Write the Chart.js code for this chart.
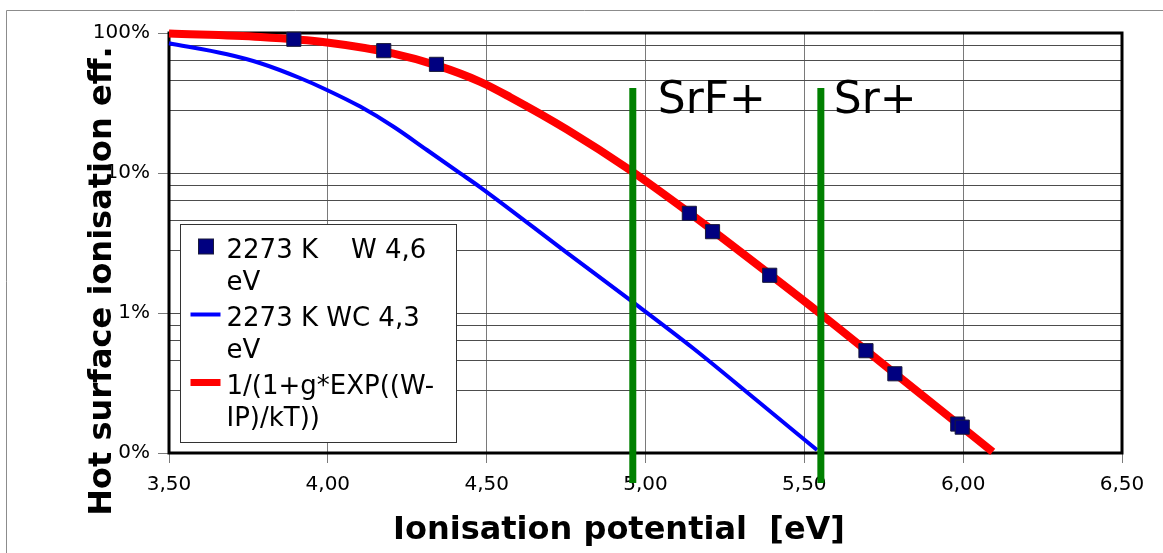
<!DOCTYPE html>
<html>
<head>
<meta charset="utf-8">
<script src="https://cdn.jsdelivr.net/npm/chart.js@4.4.1/dist/chart.umd.min.js"></script>
<style>
  body { margin: 0; background: #fff; }
  #wrap { width: 1163px; height: 553px; position: relative; }
</style>
</head>
<body>
<div id="wrap"><canvas id="chart"></canvas></div>
<script>
// measured points, 2273 K, W 4,6 eV
const wX = [3.893, 4.176, 4.342, 5.138, 5.211, 5.391, 5.694, 5.785, 5.983, 5.997];
const wY = [0.902, 0.748, 0.597, 0.0515, 0.0381, 0.0186, 0.00538, 0.00368, 0.00161, 0.00153];

// 2273 K, WC 4,3 eV curve
const wcX = [3.5, 3.683, 3.788, 3.914, 3.997, 4.102, 4.207, 4.312, 4.417, 4.48, 4.75, 4.951, 5.15, 5.35, 5.54];
const wcY = [0.844, 0.705, 0.608, 0.475, 0.392, 0.298, 0.214, 0.146, 0.0995, 0.079, 0.0272, 0.0124, 0.0056, 0.00238, 0.00105];

// fit 1/(1+g*EXP((W-IP)/kT))
const fitX = [3.5, 3.788, 3.997, 4.207, 4.343, 4.48, 4.574, 4.752, 4.951, 5.14, 5.234, 5.549, 5.785, 6.093];
const fitY = [0.99, 0.935, 0.855, 0.712, 0.587, 0.448, 0.348, 0.205, 0.105, 0.0515, 0.0355, 0.00995, 0.0037, 0.00102];

// ionisation potentials marked with vertical lines
const ionNames = ["SrF+", "Sr+"];
const ionX = [4.96, 5.552];
const ionTop = 0.405;
const ionBottom = 0.00061;

// axis ticks
const xTicks = [3.5, 4.0, 4.5, 5.0, 5.5, 6.0, 6.5];
const yDecades = [0.001, 0.01, 0.1, 1];
const yMinorFractions = [0.28, 0.46, 0.64, 0.82];

const seriesNames = ["2273 K    W 4,6 eV", "2273 K WC 4,3 eV", "1/(1+g*EXP((W-IP)/kT))"];
const legendLines = [["2273 K    W 4,6", "eV"], ["2273 K WC 4,3", "eV"], ["1/(1+g*EXP((W-", "IP)/kT))"]];

const toPoints = (xs, ys) => xs.map((x, i) => ({ x: x, y: ys[i] }));

function yTickValues() {
  const vals = [];
  yDecades.forEach((d, i) => {
    if (i > 0) yMinorFractions.forEach(f => vals.push(d * f));
    vals.push(d);
  });
  return vals.sort((a, b) => a - b);
}

function isDecade(v) {
  const l = Math.log10(v);
  return Math.abs(l - Math.round(l)) < 1e-6;
}

Chart.defaults.font.family = "'DejaVu Sans', sans-serif";
Chart.defaults.color = "#000";

const extras = {
  id: "extras",
  beforeDraw(chart) {
    const ctx = chart.ctx;
    ctx.save();
    ctx.fillStyle = "#fff";
    ctx.fillRect(0, 0, chart.width, chart.height);
    // page frame
    ctx.strokeStyle = "#8c8c8c";
    ctx.lineWidth = 1;
    ctx.beginPath();
    ctx.moveTo(6.5, chart.height);
    ctx.lineTo(6.5, 10.5);
    ctx.lineTo(chart.width, 10.5);
    ctx.stroke();
    ctx.restore();
  },
  beforeDatasetsDraw(chart) {
    const { ctx, chartArea: a } = chart;
    ctx.save();
    ctx.strokeStyle = "#000";
    ctx.lineWidth = 3;
    ctx.strokeRect(a.left, a.top, a.right - a.left, a.bottom - a.top);
    ctx.restore();
  },
  afterDatasetsDraw(chart) {
    const { ctx, scales } = chart;
    ctx.save();

    // SrF+ / Sr+ labels
    ctx.fillStyle = "#000";
    ctx.font = "44px 'DejaVu Sans'";
    ctx.textBaseline = "alphabetic";
    ctx.textAlign = "left";
    const labelOffsets = [25, 13];
    ionNames.forEach((name, i) => {
      ctx.fillText(name, scales.x.getPixelForValue(ionX[i]) + labelOffsets[i], scales.y.getPixelForValue(0.27));
    });

    // legend
    const bx = 180.5, by = 224.5, bw = 276, bh = 218;
    ctx.fillStyle = "#fff";
    ctx.fillRect(bx, by, bw, bh);
    ctx.strokeStyle = "#333";
    ctx.lineWidth = 1;
    ctx.strokeRect(bx, by, bw, bh);
    ctx.font = "26px 'DejaVu Sans'";
    const legendSets = chart.data.datasets.filter(d => d.legendIndex !== undefined);
    legendSets.forEach(ds => {
      const i = ds.legendIndex;
      const base = by + 33 + i * 68;
      const my = base - 11;
      if (ds.pointStyle === "rect") {
        ctx.fillStyle = ds.backgroundColor;
        ctx.fillRect(bx + 18, my - 7.5, 15, 15);
        ctx.strokeStyle = "#1a1a3a";
        ctx.strokeRect(bx + 18, my - 7.5, 15, 15);
      } else {
        ctx.strokeStyle = ds.borderColor;
        ctx.lineWidth = ds.legendLineWidth;
        ctx.beginPath();
        ctx.moveTo(bx + 10, my);
        ctx.lineTo(bx + 40, my);
        ctx.stroke();
      }
      ctx.fillStyle = "#000";
      legendLines[i].forEach((line, k) => ctx.fillText(line, bx + 46, base + k * 32));
    });

    ctx.restore();
  },
  afterDraw(chart) {
    const ctx = chart.ctx;
    ctx.save();
    ctx.fillStyle = "#000";
    ctx.font = "bold 32px 'DejaVu Sans'";
    ctx.textAlign = "center";
    ctx.textBaseline = "alphabetic";
    ctx.fillText("Ionisation potential  [eV]", 619, 539);
    ctx.translate(111, 281);
    ctx.rotate(-Math.PI / 2);
    ctx.fillText("Hot surface ionisation eff.", 0, 0);
    ctx.restore();
  }
};

const ionSets = ionX.map((x, i) => ({
  label: ionNames[i],
  data: [{ x: x, y: ionTop }, { x: x, y: ionBottom }],
  borderColor: "#008000",
  borderWidth: 7,
  pointRadius: 0,
  borderCapStyle: "butt",
  clip: false,
  order: 1
}));

new Chart(document.getElementById("chart"), {
  type: "line",
  data: {
    datasets: [
      {
        label: seriesNames[0],
        legendIndex: 0,
        data: toPoints(wX, wY),
        showLine: false,
        pointStyle: "rect",
        pointRadius: 10,
        pointBorderWidth: 1,
        backgroundColor: "#000080",
        borderColor: "#1a1a3a",
        clip: false,
        order: 0
      },
      {
        label: seriesNames[1],
        legendIndex: 1,
        data: toPoints(wcX, wcY),
        borderColor: "#0000ff",
        borderWidth: 4,
        legendLineWidth: 4,
        pointRadius: 0,
        cubicInterpolationMode: "monotone",
        clip: false,
        order: 3
      },
      {
        label: seriesNames[2],
        legendIndex: 2,
        data: toPoints(fitX, fitY),
        borderColor: "#ff0000",
        borderWidth: 8,
        legendLineWidth: 7,
        pointRadius: 0,
        cubicInterpolationMode: "monotone",
        borderCapStyle: "butt",
        clip: false,
        order: 2
      },
      ...ionSets
    ]
  },
  options: {
    responsive: true,
    maintainAspectRatio: false,
    animation: false,
    devicePixelRatio: 1,
    layout: { padding: { top: 33, right: 41, left: 0, bottom: 0 } },
    plugins: {
      legend: { display: false },
      tooltip: { enabled: false }
    },
    scales: {
      x: {
        type: "linear",
        min: 3.5,
        max: 6.5,
        afterFit(s) { s.height = 100; },
        afterBuildTicks(s) { s.ticks = xTicks.map(v => ({ value: v })); },
        border: { display: false },
        grid: { color: "#7a7a7a", lineWidth: 1, tickLength: 10, tickColor: "#7a7a7a" },
        ticks: {
          padding: 10,
          font: { size: 20 },
          color: "#000",
          autoSkip: false,
          maxRotation: 0,
          callback: v => Number(v).toFixed(2).replace(".", ",")
        }
      },
      y: {
        type: "logarithmic",
        min: 0.001,
        max: 1,
        afterFit(s) { s.width = 169; },
        afterBuildTicks(s) { s.ticks = yTickValues().map(v => ({ value: v })); },
        border: { display: false },
        grid: {
          color: "#4d4d4d",
          lineWidth: 1,
          tickLength: 11,
          tickColor: c => (c.tick && isDecade(c.tick.value) ? "#7a7a7a" : "rgba(0,0,0,0)")
        },
        ticks: {
          padding: 8,
          font: { size: 20 },
          color: "#000",
          autoSkip: false,
          callback: v => (isDecade(v) ? (v * 100).toFixed(0) + "%" : "")
        }
      }
    }
  },
  plugins: [extras]
});
</script>
</body>
</html>
